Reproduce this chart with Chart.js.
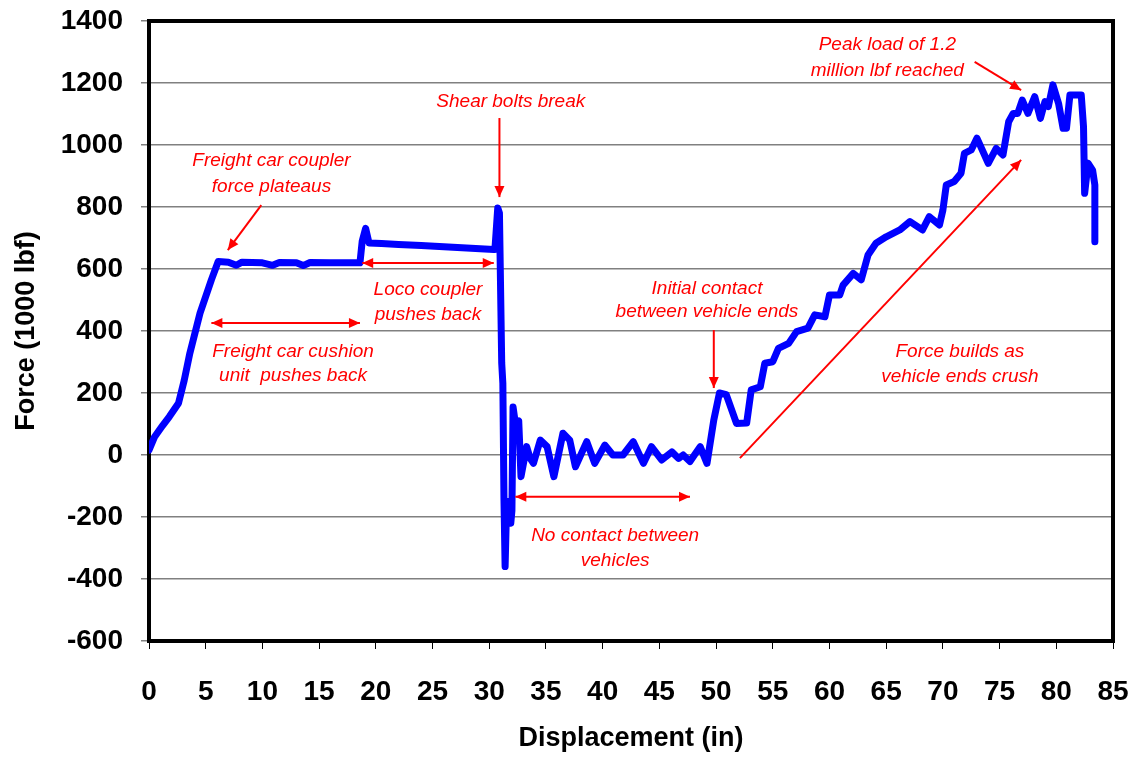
<!DOCTYPE html>
<html lang="en">
<head>
<meta charset="UTF-8">
<title>Force vs Displacement</title>
<script src="https://cdn.jsdelivr.net/npm/chart.js"></script>
<style>
  html, body { margin: 0; padding: 0; background: #fff; }
  #wrap { width: 1135px; height: 759px; position: relative; }
</style>
</head>
<body>
<div id="wrap"><canvas id="grafico"></canvas></div>
<script>
    // displacement (in) and force (1000 lbf)
    const displacement = [0, 0.5, 1.2, 1.8, 2.6, 3.1, 3.6, 4.5, 5.5, 6.1, 7.0, 7.7, 8.2, 10.0, 10.9, 11.5, 13.0, 13.6, 14.2, 16.0,
        18.6, 18.8, 19.1, 19.4, 20.5, 22, 24, 26, 28, 30.4, 30.5, 30.6, 30.75, 30.9, 31.1, 31.2, 31.3, 31.4, 31.5, 31.7,
        31.9, 32.0, 32.1, 32.3, 32.6, 32.8, 33.3, 33.6, 33.9, 34.5, 35.1, 35.7, 36.5, 37.1, 37.6, 38.6, 39.3, 40.2, 40.9, 41.8,
        42.7, 43.6, 44.3, 45.2, 46.1, 46.7, 47.1, 47.7, 48.6, 49.2, 49.8, 50.3, 50.9, 51.8, 52.7, 53.1, 53.9, 54.3, 55.0, 55.5,
        56.4, 57.1, 58.1, 58.7, 59.6, 60.0, 60.9, 61.2, 62.1, 62.8, 63.4, 64.1, 65.0, 66.2, 67.1, 68.2, 68.8, 69.7, 70.0, 70.3,
        71.0, 71.6, 71.9, 72.5, 73.0, 74.0, 74.7, 75.3, 75.8, 76.2, 76.6, 77.0, 77.5, 78.1, 78.6, 79.0, 79.3, 79.7, 80.2, 80.6,
        80.9, 81.2, 82.2, 82.4, 82.5, 82.8, 83.2, 83.4, 83.4];
    const force = [16, 59, 95, 124, 167, 240, 328, 458, 565, 624, 622, 612, 622, 620, 612, 621, 620, 611, 621, 620,
        620, 690, 731, 684, 682, 679, 676, 672, 668, 663, 663, 716, 797, 780, 297, 232, -145, -360, -210, -150,
        -220, -180, 155, 103, 110, -70, 27, -10, -27, 48, 27, -70, 70, 48, -38, 43, -27, 32, 0, 0,
        43, -27, 27, -16, 10, -11, 0, -21, 27, -27, 113, 200, 195, 102, 103, 210, 220, 296, 301, 344,
        360, 398, 409, 452, 446, 516, 516, 548, 586, 565, 645, 683, 704, 726, 753, 726, 769, 742, 790, 871,
        882, 909, 973, 984, 1022, 941, 989, 968, 1075, 1102, 1102, 1145, 1102, 1156, 1086, 1140, 1124, 1194, 1134, 1054,
        1054, 1161, 1161, 1059, 844, 941, 919, 871, 688];

    const pontos = displacement.map((x, i) => ({ x: x, y: force[i] }));

    // anotações em vermelho (coordenadas em dados)
    const textos = [
        { x: 10.8, y: [948, 865], linhas: ['Freight car coupler', 'force plateaus'] },
        { x: 31.9, y: [1139], linhas: ['Shear bolts break'] },
        { x: 24.6, y: [532, 452], linhas: ['Loco coupler', 'pushes back'] },
        { x: 12.7, y: [332, 255], linhas: ['Freight car cushion', 'unit  pushes back'] },
        { x: 49.2, y: [535, 461], linhas: ['Initial contact', 'between vehicle ends'] },
        { x: 41.1, y: [-261, -342], linhas: ['No contact between', 'vehicles'] },
        { x: 71.5, y: [332, 252], linhas: ['Force builds as', 'vehicle ends crush'] },
        { x: 65.1, y: [1322, 1239], linhas: ['Peak load of 1.2', 'million lbf reached'] }
    ];
    const setas = [
        { de: [9.9, 806], ate: [6.95, 661], duas: false },
        { de: [30.9, 1087], ate: [30.9, 832], duas: false },
        { de: [18.8, 619], ate: [30.4, 619], duas: true },
        { de: [5.5, 426], ate: [18.6, 426], duas: true },
        { de: [49.8, 403], ate: [49.8, 216], duas: false },
        { de: [32.3, -135], ate: [47.7, -135], duas: true },
        { de: [52.1, -10], ate: [76.9, 952], duas: false },
        { de: [72.8, 1268], ate: [76.9, 1177], duas: false }
    ];

    function ponta(ctx, x0, y0, x1, y1) {
        const a = Math.atan2(y1 - y0, x1 - x0);
        const L = 11, W = 5;
        ctx.beginPath();
        ctx.moveTo(x1, y1);
        ctx.lineTo(x1 - L * Math.cos(a) + W * Math.sin(a), y1 - L * Math.sin(a) - W * Math.cos(a));
        ctx.lineTo(x1 - L * Math.cos(a) - W * Math.sin(a), y1 - L * Math.sin(a) + W * Math.cos(a));
        ctx.closePath();
        ctx.fill();
    }

    const moldura = {
        id: 'moldura',
        beforeDatasetsDraw(chart) {
            const a = chart.chartArea, ctx = chart.ctx;
            ctx.save();
            ctx.strokeStyle = '#000';
            ctx.lineWidth = 4;
            ctx.strokeRect(a.left, a.top, a.right - a.left, a.bottom - a.top);
            ctx.restore();
        }
    };

    const anotacoes = {
        id: 'anotacoes',
        afterDatasetsDraw(chart) {
            const ctx = chart.ctx, sx = chart.scales.x, sy = chart.scales.y;
            ctx.save();
            ctx.fillStyle = '#ff0000';
            ctx.strokeStyle = '#ff0000';
            ctx.lineWidth = 2;
            ctx.font = 'italic 19px "Liberation Sans", Arial, sans-serif';
            ctx.textAlign = 'center';
            ctx.textBaseline = 'middle';
            textos.forEach(t => {
                t.linhas.forEach((l, i) => ctx.fillText(l, sx.getPixelForValue(t.x), sy.getPixelForValue(t.y[i])));
            });
            setas.forEach(s => {
                const x0 = sx.getPixelForValue(s.de[0]), y0 = sy.getPixelForValue(s.de[1]);
                const x1 = sx.getPixelForValue(s.ate[0]), y1 = sy.getPixelForValue(s.ate[1]);
                ctx.beginPath();
                ctx.moveTo(x0, y0);
                ctx.lineTo(x1, y1);
                ctx.stroke();
                ponta(ctx, x0, y0, x1, y1);
                if (s.duas) ponta(ctx, x1, y1, x0, y0);
            });
            ctx.restore();
        }
    };

    const fonteTick = { family: '"Liberation Sans", Arial, sans-serif', size: 28, weight: 'bold' };
    const fonteTitulo = { family: '"Liberation Sans", Arial, sans-serif', size: 27, weight: 'bold' };

    new Chart(document.getElementById('grafico'), {
        type: 'line',
        data: {
            datasets: [{
                data: pontos,
                borderColor: '#0000ff',
                borderWidth: 7,
                pointRadius: 0,
                tension: 0,
                borderJoinStyle: 'round',
                borderCapStyle: 'round'
            }]
        },
        options: {
            responsive: true,
            maintainAspectRatio: false,
            animation: false,
            layout: { padding: { top: 21, right: 22, left: 0, bottom: 0 } },
            plugins: { legend: { display: false }, tooltip: { enabled: false } },
            scales: {
                x: {
                    type: 'linear',
                    min: 0, max: 85,
                    ticks: { stepSize: 5, color: '#000', font: fonteTick, padding: 26, maxRotation: 0, callback: v => String(v) },
                    grid: { drawOnChartArea: false, drawTicks: true, tickLength: 8, color: '#000', lineWidth: 1 },
                    border: { color: '#000', width: 4 },
                    title: { display: true, text: 'Displacement (in)', color: '#000', font: fonteTitulo, padding: { top: 14 } },
                    afterFit: s => { s.height = 118; s.paddingLeft = 0; s.paddingRight = 0; }
                },
                y: {
                    min: -600, max: 1400,
                    ticks: { stepSize: 200, color: '#000', font: fonteTick, padding: 18, callback: v => String(v) },
                    grid: { color: '#808080', lineWidth: 1.5, tickLength: 8 },
                    border: { color: '#000', width: 4 },
                    title: { display: true, text: 'Force (1000 lbf)', color: '#000', font: fonteTitulo, padding: { top: 10, bottom: 0 } },
                    afterFit: s => { s.width = 149; s.paddingTop = 0; s.paddingBottom = 0; }
                }
            }
        },
        plugins: [moldura, anotacoes]
    });
</script>
</body>
</html>
